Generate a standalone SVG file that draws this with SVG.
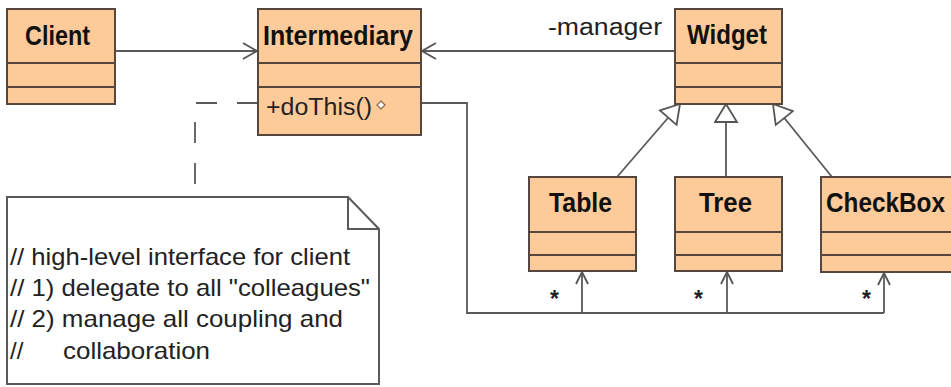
<svg xmlns="http://www.w3.org/2000/svg" width="951" height="387" viewBox="0 0 951 387">
<style>
.box{fill:#FDCB9A;stroke:#55473d;stroke-width:2}
.div{stroke:#55473d;stroke-width:2}
.title{font-family:"Liberation Sans",Arial,sans-serif;font-weight:bold;font-size:27px;fill:#111}
.txt{font-family:"Liberation Sans",Arial,sans-serif;font-size:23px;fill:#222}
.note{font-family:"Liberation Sans",Arial,sans-serif;font-size:24px;fill:#222}
.conn{fill:none;stroke:#5a5a5a;stroke-width:1.8}
</style>
<defs>
<marker id="open" viewBox="0 0 16 18" refX="15" refY="9" markerWidth="16" markerHeight="18" markerUnits="userSpaceOnUse" orient="auto">
<path d="M1,1 L15,9 L1,17" fill="none" stroke="#555" stroke-width="1.8"/>
</marker>
<marker id="openS" viewBox="0 0 14 14" refX="13" refY="7" markerWidth="14" markerHeight="14" markerUnits="userSpaceOnUse" orient="auto">
<path d="M1,1 L13,7 L1,13" fill="none" stroke="#555" stroke-width="1.8"/>
</marker>
<marker id="tri" viewBox="0 0 21 25" refX="19.5" refY="12.5" markerWidth="21" markerHeight="25" markerUnits="userSpaceOnUse" orient="auto">
<path d="M1.5,1.5 L19.5,12.5 L1.5,23.5 Z" fill="#fff" stroke="#555" stroke-width="1.8"/>
</marker>
</defs>
<rect width="951" height="387" fill="#fff"/>

<g id="connectors">
<path class="conn" d="M115,51 H257" marker-end="url(#open)"/>
<path class="conn" d="M675,51 H422" marker-end="url(#open)"/>
<path class="conn" d="M258,103 H195 V197" stroke-dasharray="21 20"/>
<path class="conn" d="M421,103 H467 V313 H884"/>
<path class="conn" d="M884,313 V273" marker-end="url(#openS)"/>
<path class="conn" d="M582,313 V272" marker-end="url(#openS)"/>
<path class="conn" d="M727,313 V272" marker-end="url(#openS)"/>
<path class="conn" d="M617,177 L680,104" marker-end="url(#tri)"/>
<path class="conn" d="M726,177 V104" marker-end="url(#tri)"/>
<path class="conn" d="M832,177 L773,104" marker-end="url(#tri)"/>
<text class="txt" x="548" y="35" textLength="114" lengthAdjust="spacingAndGlyphs">-manager</text>
<text class="txt" x="550" y="307" font-size="20" font-weight="bold">*</text>
<text class="txt" x="694" y="307" font-size="20" font-weight="bold">*</text>
<text class="txt" x="862" y="307" font-size="20" font-weight="bold">*</text>
</g>

<g id="client">
<rect class="box" x="7" y="9" width="108" height="95"/>
<line class="div" x1="7" y1="63" x2="115" y2="63"/>
<line class="div" x1="7" y1="87" x2="115" y2="87"/>
<text class="title" x="25" y="45" textLength="65" lengthAdjust="spacingAndGlyphs">Client</text>
</g>

<g id="intermediary">
<rect class="box" x="258" y="9" width="163" height="126"/>
<line class="div" x1="258" y1="63" x2="421" y2="63"/>
<line class="div" x1="258" y1="87" x2="421" y2="87"/>
<text class="title" x="263" y="45" textLength="150" lengthAdjust="spacingAndGlyphs">Intermediary</text>
<text class="txt" x="266" y="115" textLength="106" lengthAdjust="spacingAndGlyphs">+doThis()</text>
<path d="M381,101 L385,105 L381,109 L377,105 Z" fill="#fff" stroke="#8a6a50" stroke-width="1.2"/>
</g>

<g id="widget">
<rect class="box" x="675" y="9" width="107" height="95"/>
<line class="div" x1="675" y1="63" x2="782" y2="63"/>
<line class="div" x1="675" y1="87" x2="782" y2="87"/>
<text class="title" x="687" y="44" textLength="80" lengthAdjust="spacingAndGlyphs">Widget</text>
</g>

<g id="table">
<rect class="box" x="529" y="177" width="107" height="94"/>
<line class="div" x1="529" y1="232" x2="636" y2="232"/>
<line class="div" x1="529" y1="255" x2="636" y2="255"/>
<text class="title" x="549" y="212" textLength="63" lengthAdjust="spacingAndGlyphs">Table</text>
</g>

<g id="tree">
<rect class="box" x="675" y="177" width="107" height="94"/>
<line class="div" x1="675" y1="232" x2="782" y2="232"/>
<line class="div" x1="675" y1="255" x2="782" y2="255"/>
<text class="title" x="699" y="212" textLength="53" lengthAdjust="spacingAndGlyphs">Tree</text>
</g>

<g id="checkbox">
<rect class="box" x="821" y="177" width="140" height="95"/>
<line class="div" x1="821" y1="232" x2="951" y2="232"/>
<line class="div" x1="821" y1="255" x2="951" y2="255"/>
<text class="title" x="826" y="212" textLength="119" lengthAdjust="spacingAndGlyphs">CheckBox</text>
</g>

<g id="note">
<path d="M7,197 H348 L379,229 V384 H7 Z" fill="#fff" stroke="#5a5a5a" stroke-width="2"/>
<path d="M348,197 V229 H379" fill="none" stroke="#5a5a5a" stroke-width="2"/>
<text class="note" x="10" y="265" textLength="340" lengthAdjust="spacingAndGlyphs">// high-level interface for client</text>
<text class="note" x="10" y="296" textLength="360" lengthAdjust="spacingAndGlyphs">// 1) delegate to all "colleagues"</text>
<text class="note" x="10" y="327" textLength="333" lengthAdjust="spacingAndGlyphs">// 2) manage all coupling and</text>
<text class="note" x="10" y="359">//</text>
<text class="note" x="63" y="359" textLength="147" lengthAdjust="spacingAndGlyphs">collaboration</text>
</g>
</svg>
